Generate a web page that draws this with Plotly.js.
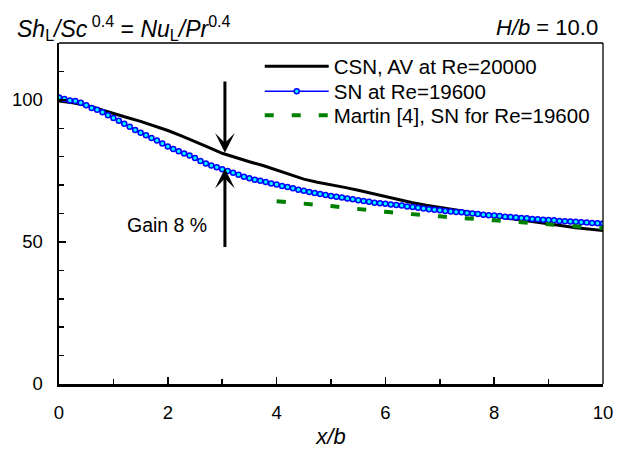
<!DOCTYPE html>
<html>
<head>
<meta charset="utf-8">
<script src="https://cdn.plot.ly/plotly-3.0.1.min.js"></script>
<style>
  html, body { margin: 0; padding: 0; background: #fff; }
  #chart { width: 626px; height: 449px; }
</style>
</head>
<body>
<div id="chart"></div>
<script>
// ---- data ----
const snX = [0.0,0.1,0.2,0.3,0.4,0.5,0.6,0.7,0.8,0.9,1.0,1.1,1.2,1.3,1.4,1.5,1.6,1.7,1.8,1.9,2.0,2.1,2.2,2.3,2.4,2.5,2.6,2.7,2.8,2.9,3.0,3.1,3.2,3.3,3.4,3.5,3.6,3.7,3.8,3.9,4.0,4.1,4.2,4.3,4.4,4.5,4.6,4.7,4.8,4.9,5.0,5.1,5.2,5.3,5.4,5.5,5.6,5.7,5.8,5.9,6.0,6.1,6.2,6.3,6.4,6.5,6.6,6.7,6.8,6.9,7.0,7.1,7.2,7.3,7.4,7.5,7.6,7.7,7.8,7.9,8.0,8.1,8.2,8.3,8.4,8.5,8.6,8.7,8.8,8.9,9.0,9.1,9.2,9.3,9.4,9.5,9.6,9.7,9.8,9.9,10.0];
const snY = [100.8,100.3,99.8,99.6,99.0,98.1,97.1,96.5,95.6,94.6,93.6,92.6,91.6,90.5,89.4,88.4,87.5,86.6,85.7,84.6,83.6,82.7,81.9,81.1,80.4,79.5,78.5,77.6,76.9,76.3,75.6,75.0,74.3,73.6,72.9,72.4,71.9,71.5,71.1,70.6,70.2,69.7,69.3,68.9,68.4,68.0,67.6,67.2,66.9,66.5,66.2,65.9,65.6,65.3,65.0,64.7,64.4,64.1,63.8,63.6,63.4,63.2,63.0,62.8,62.5,62.3,62.0,61.8,61.5,61.3,61.1,60.9,60.7,60.5,60.4,60.2,60.0,59.8,59.6,59.4,59.3,59.1,58.9,58.8,58.6,58.4,58.3,58.1,58.0,57.8,57.7,57.6,57.4,57.3,57.2,57.1,56.9,56.8,56.7,56.6,56.5];

const csnX = [0,0.25,0.5,0.75,1.0,1.25,1.5,1.75,2.0,2.25,2.5,2.75,3.0,3.25,3.5,3.75,4.0,4.25,4.5,4.75,5.0,5.25,5.5,5.75,6.0,6.25,6.5,6.75,7.0,7.25,7.5,7.75,8.0,8.25,8.5,8.75,9.0,9.25,9.5,9.75,10.0];
const csnY = [99.6,99.0,98.1,96.6,95.3,93.8,92.4,90.9,89.2,87.3,85.4,83.3,81.2,79.6,78.2,76.9,75.3,73.7,72.1,71.0,70.2,69.2,68.2,67.1,65.8,64.7,63.8,62.9,62.1,61.4,60.7,59.9,59.0,58.3,57.7,57.1,56.4,55.7,55.0,54.5,54.0];

const martinX = [4,5,6,7,8,9,10];
const martinY = [64.3,62.6,60.6,59.0,57.6,56.2,54.8];

const seriesNames = ['CSN, AV at Re=20000', 'SN at Re=19600', 'Martin [4], SN for Re=19600'];

// annotation values
const arrowX = 3.05;
const arrowTopFrom = 107, arrowTopTo = 81.4;
const arrowBotFrom = 47.7, arrowBotTo = 75.8;
const gainText = 'Gain 8 %';
const gainPos = [1.985, 55.8];

const FONT = 'Liberation Sans, Arial, sans-serif';

const traces = [
  { x: csnX, y: csnY, name: seriesNames[0], type: 'scatter', mode: 'lines', legend: 'legend',
    line: { color: '#000000', width: 3 } },
  { x: snX, y: snY, name: seriesNames[1], type: 'scatter', mode: 'lines+markers', legend: 'legend2',
    line: { color: '#0000FF', width: 1.5 },
    marker: { symbol: 'circle', size: 5, color: '#00FFFF', line: { color: '#0000FF', width: 1.5 } } },
  { x: martinX, y: martinY, name: seriesNames[2], type: 'scatter', mode: 'lines', legend: 'legend3',
    line: { color: '#008000', width: 4, dash: '9px,18px', shape: 'spline' } }
];

function leg(y) {
  return {
    x: 0.369, y: y, xanchor: 'left', yanchor: 'top',
    bgcolor: 'rgba(0,0,0,0)', borderwidth: 0,
    font: { family: FONT, size: 20.5, color: '#000' },
    itemwidth: 64
  };
}

const layout = {
  width: 626, height: 449,
  margin: { l: 59, r: 23, t: 43, b: 65, pad: 0 },
  paper_bgcolor: '#ffffff', plot_bgcolor: '#ffffff',
  font: { family: FONT, size: 18, color: '#000' },
  showlegend: true,
  legend: leg(0.99),
  legend2: leg(0.9164),
  legend3: leg(0.846),
  xaxis: {
    range: [0, 10], dtick: 2, tick0: 0,
    ticks: 'inside', ticklen: 7, tickwidth: 1.5, tickcolor: '#000',
    minor: { dtick: 1, ticks: 'inside', ticklen: 5, tickwidth: 1.5, tickcolor: '#000' },
    showline: true, linecolor: '#000', linewidth: 2.5, mirror: false,
    showgrid: false, zeroline: false,
    tickfont: { family: FONT, size: 18.5 },
    ticklabelstandoff: 10,
    title: { text: '<i>x/b</i>', font: { family: FONT, size: 22 }, standoff: 10 }
  },
  yaxis: {
    range: [0, 120], dtick: 50, tick0: 0,
    ticks: 'inside', ticklen: 7, tickwidth: 1.5, tickcolor: '#000',
    minor: { dtick: 10, ticks: 'inside', ticklen: 5, tickwidth: 1.5, tickcolor: '#000' },
    showline: true, linecolor: '#000', linewidth: 2.5, mirror: false,
    showgrid: false, zeroline: false,
    tickfont: { family: FONT, size: 18.5 },
    ticklabelstandoff: 10
  },
  shapes: [
    { type: 'line', xref: 'paper', yref: 'paper', x0: 0, x1: 1, y0: 1, y1: 1, line: { color: '#000', width: 1.3 } },
    { type: 'line', xref: 'paper', yref: 'paper', x0: 1, x1: 1, y0: 0, y1: 1, line: { color: '#000', width: 1.3 } }
  ],
  annotations: [
    { xref: 'paper', yref: 'paper', x: -0.081, y: 1.045, xanchor: 'left', yanchor: 'middle',
      showarrow: false, align: 'left',
      text: '<i>Sh</i><sub>L</sub><i>/Sc</i><sup> 0.4</sup> = <i>Nu</i><sub>L</sub><i>/Pr</i><sup>0.4</sup>',
      font: { family: FONT, size: 23, color: '#000' } },
    { xref: 'paper', yref: 'paper', x: 0.995, y: 1.045, xanchor: 'right', yanchor: 'middle',
      showarrow: false, text: '<i>H/b</i> = 10.0',
      font: { family: FONT, size: 22, color: '#000' } },
    { xref: 'x', yref: 'y', x: arrowX, y: arrowTopTo, axref: 'x', ayref: 'y', ax: arrowX, ay: arrowTopFrom,
      text: '', showarrow: true, arrowhead: 3, arrowsize: 1.1, arrowwidth: 3, arrowcolor: '#000', standoff: 0, startstandoff: 0 },
    { xref: 'x', yref: 'y', x: arrowX, y: arrowBotTo, axref: 'x', ayref: 'y', ax: arrowX, ay: arrowBotFrom,
      text: '', showarrow: true, arrowhead: 3, arrowsize: 1.1, arrowwidth: 3, arrowcolor: '#000', standoff: 0, startstandoff: 0 },
    { xref: 'x', yref: 'y', x: gainPos[0], y: gainPos[1], showarrow: false, text: gainText,
      xanchor: 'center', yanchor: 'middle', font: { family: FONT, size: 19.5, color: '#000' } }
  ]
};

Plotly.newPlot('chart', traces, layout, { staticPlot: true, displayModeBar: false });
</script>
</body>
</html>
